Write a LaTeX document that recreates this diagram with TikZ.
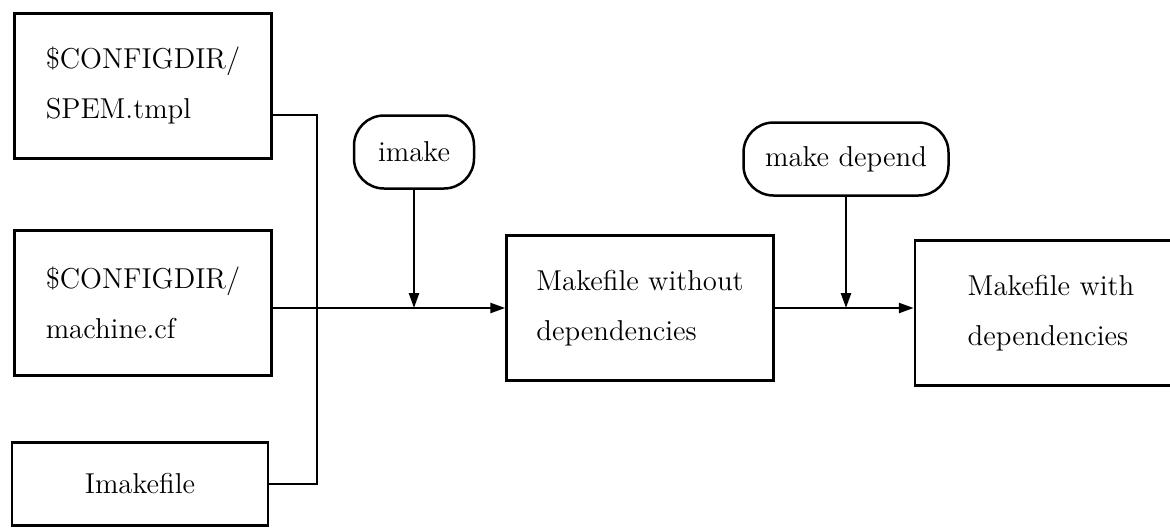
\documentclass[tikz,border=0pt]{standalone}
\usetikzlibrary{arrows.meta,positioning}

\begin{document}
\begin{tikzpicture}[
    x=0.4pt, y=-0.4pt,
    line width=1pt,
    every node/.style={font=\fontsize{11.5}{20}\selectfont},
    filebox/.style={
        rectangle,
        draw,
        align=left,
        inner sep=0pt,
        minimum height=58pt    % same height for all the big boxes
    },
    cmdbox/.style={
        rectangle,
        draw,
        rounded corners=12pt,
        inner sep=0pt,
        minimum height=29.2pt
    },
    flow/.style={-{Triangle[length=6pt,width=4pt]}}
]
\clip (0,0) rectangle (1170,527);

% inputs of imake
\node[filebox, minimum width=102.8pt] (spem) at (143,86) {\$CONFIGDIR/\\SPEM.tmpl};
\node[filebox, minimum width=102.8pt] (machine) at (143,303) {\$CONFIGDIR/\\machine.cf};
\node[filebox, minimum width=102.4pt, minimum height=33.2pt] (imakefile) at (140,484) {Imakefile};

% generated makefiles
\node[filebox, minimum width=106.8pt] (nodeps) at (640,308) {Makefile without\\dependencies};
\node[filebox, minimum width=108.8pt] (withdeps) at (1051,313) {Makefile with\\dependencies};

% commands
\node[cmdbox, minimum width=48pt] (imake) at (414,152) {imake};
\node[cmdbox, minimum width=82pt] (depend) at (846,159) {make depend};

\coordinate (bus) at (317,308);

\draw ([yshift=-11.6pt]spem.east) -| (bus);
\draw (imakefile.east) -| (bus);
\draw[flow] (machine.east |- nodeps.west) -- (nodeps.west);
\draw[flow] (imake.south) -- (imake.south |- nodeps.west);
\draw[flow] (nodeps.east) -- (nodeps.east -| withdeps.west);
\draw[flow] (depend.south) -- (depend.south |- nodeps.east);
\end{tikzpicture}
\end{document}
